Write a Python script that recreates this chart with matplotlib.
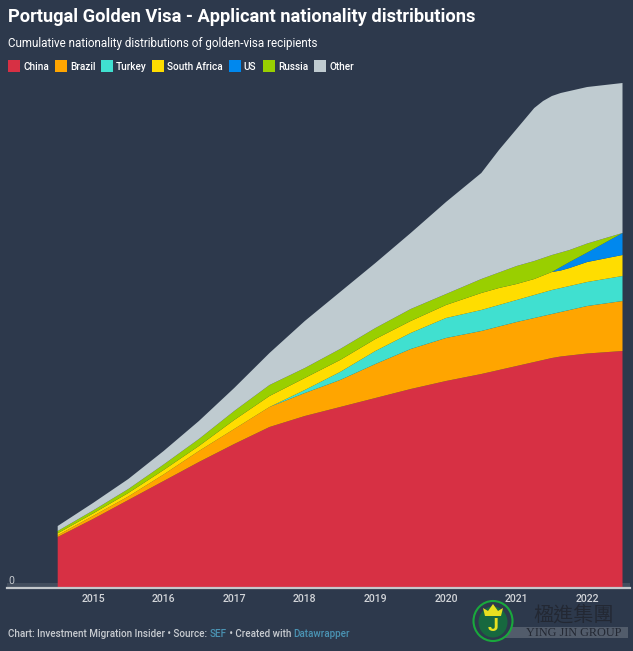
import matplotlib
matplotlib.use("Agg")
import matplotlib.pyplot as plt
from matplotlib.patches import Rectangle, Ellipse, Polygon

W, H = 633, 651
BG = "#2d394c"

years = [2014.5, 2015, 2015.5, 2016, 2016.5, 2017, 2017.5, 2018, 2018.5, 2019, 2019.5, 2020,
         2020.5, 2020.75, 2021, 2021.25, 2021.375, 2021.5, 2021.625, 2021.75, 2022, 2022.5]
china = [1000, 1360, 1740, 2120, 2500, 2860, 3200, 3420, 3600, 3780, 3960, 4120,
         4260, 4340, 4420, 4500, 4540, 4580, 4610, 4630, 4670, 4720]
brazil = [34, 60, 70, 130, 220, 300, 400, 460, 540, 680, 800, 860,
          860, 870, 880, 880, 880, 880, 890, 910, 950, 1000]
turkey = [0, 0, 0, 0, 0, 0, 0, 60, 160, 260, 320, 400,
          420, 430, 440, 460, 470, 480, 480, 480, 480, 500]
south_africa = [40, 50, 70, 90, 100, 180, 220, 240, 240, 240, 240, 260,
                340, 340, 320, 320, 340, 360, 350, 360, 400, 420]
us = [0, 0, 0, 0, 0, 0, 0, 0, 0, 0, 0, 0,
      0, 0, 0, 0, 0, 0, 70, 120, 190, 440]
russia = [46, 60, 80, 110, 140, 180, 220, 200, 220, 220, 240, 220,
          280, 310, 360, 360, 350, 340, 290, 240, 180, 0]
other = [100, 150, 200, 270, 360, 460, 640, 940, 1140, 1300, 1520, 1840,
         2120, 2450, 2740, 3060, 3140, 3180, 3190, 3180, 3130, 3000]

names = ["China", "Brazil", "Turkey", "South Africa", "US", "Russia", "Other"]
colors = ["#d73044", "#ffa500", "#40e0d0", "#ffdd00", "#0088ee", "#99cf00", "#bfcbd0"]
tick_years = [2015, 2016, 2017, 2018, 2019, 2020, 2021, 2022]

plt.rcParams["font.family"] = ["Roboto", "DejaVu Sans"]
fig = plt.figure(figsize=(W / 100, H / 100), dpi=100, facecolor=BG)

def fx(p): return p / W
def fy(p): return 1 - p / H

# plot area: px 7..630 horizontally, px 70..587 vertically
ax = fig.add_axes([fx(7), fy(587), (630 - 7) / W, (587 - 70) / H])
ax.set_facecolor("none")
ax.set_xlim(2015 + (7 - 93) / 70.6, 2015 + (630 - 93) / 70.6)
ax.set_ylim(0, 517 * 20)
for s in ax.spines.values():
    s.set_visible(False)

ax.axhspan(0, 80, color="#434e5e", lw=0, zorder=1)
ax.stackplot(years, china, brazil, turkey, south_africa, us, russia, other,
             colors=colors, lw=0, zorder=2, antialiased=True)
ax.axhline(-20, color="#c4c8cc", lw=1.6, zorder=3, clip_on=False)

ax.set_yticks([])
ax.set_xticks(tick_years)
ax.set_xticklabels([str(y) for y in tick_years], fontsize=7.6, color="#d2d5d9", fontweight="medium")
ax.tick_params(axis="x", length=0, pad=5)
fig.text(fx(8), fy(581), "0", fontsize=7.6, color="#c5c9ce", va="center", ha="left")

# title block
fig.text(fx(8), fy(17), "Portugal Golden Visa - Applicant nationality distributions",
         fontsize=13.15, fontweight="bold", color="white", va="center", ha="left")
fig.text(fx(8), fy(43), "Cumulative nationality distributions of golden-visa recipients",
         fontsize=8.4, color="white", va="center", ha="left")

# legend
sq_x = [8, 55, 101, 152, 229, 263, 314]
tx_x = [23, 70, 116, 167, 243, 278, 329]
for n, c, sx, tx in zip(names, colors, sq_x, tx_x):
    fig.add_artist(Rectangle((fx(sx), fy(72)), 12 / W, 12 / H, transform=fig.transFigure, color=c, lw=0))
    fig.text(fx(tx), fy(66.5), n, fontsize=7.2, color="white", fontweight="medium", va="center", ha="left")

# credits
CR = "#c8ccd1"
LINK = "#4a93b3"
t = fig.text(fx(8), fy(634), "Chart: Investment Migration Insider • Source: ", fontsize=7.1,
             color=CR, fontweight="medium", va="center", ha="left")
for s, c in [("SEF", LINK), (" • Created with ", CR), ("Datawrapper", LINK)]:
    t = plt.annotate(s, xy=(1, 0.5), xycoords=t, fontsize=7.1, color=c, fontweight="medium",
                     va="center", ha="left", annotation_clip=False)

# watermark
fig.add_artist(Rectangle((fx(497), fy(638)), 131 / W, 11 / H, transform=fig.transFigure,
                         color="#aab0b6", alpha=0.3, lw=0))
fig.add_artist(Ellipse((fx(493), fy(621)), 39 / W, 40 / H, transform=fig.transFigure,
                       facecolor=BG, edgecolor="#19a83c", lw=1.5))
fig.add_artist(Ellipse((fx(493), fy(622)), 29 / W, 31 / H, transform=fig.transFigure,
                       facecolor="#17683f", edgecolor="none"))
crown_px = [(485, 616), (483, 608), (488, 611), (493, 604), (498, 611), (503, 608), (501, 616)]
fig.add_artist(Polygon([(fx(a), fy(b)) for a, b in crown_px], closed=True,
                       transform=fig.transFigure, facecolor="#e8e020", edgecolor="none"))
fig.text(fx(493), fy(626), "J", fontsize=14, color="#e8e020", fontweight="bold", va="center", ha="center")
fig.text(fx(574), fy(615), "楹進集團", fontsize=14.5, color="#232833", va="center", ha="center",
         family=["Noto Sans CJK TC", "DejaVu Sans"])
fig.text(fx(574), fy(632.5), "YING JIN GROUP", fontsize=8.8, color="#232833", va="center", ha="center",
         family="Liberation Serif")

fig.savefig("out.png", dpi=100, facecolor=BG)
